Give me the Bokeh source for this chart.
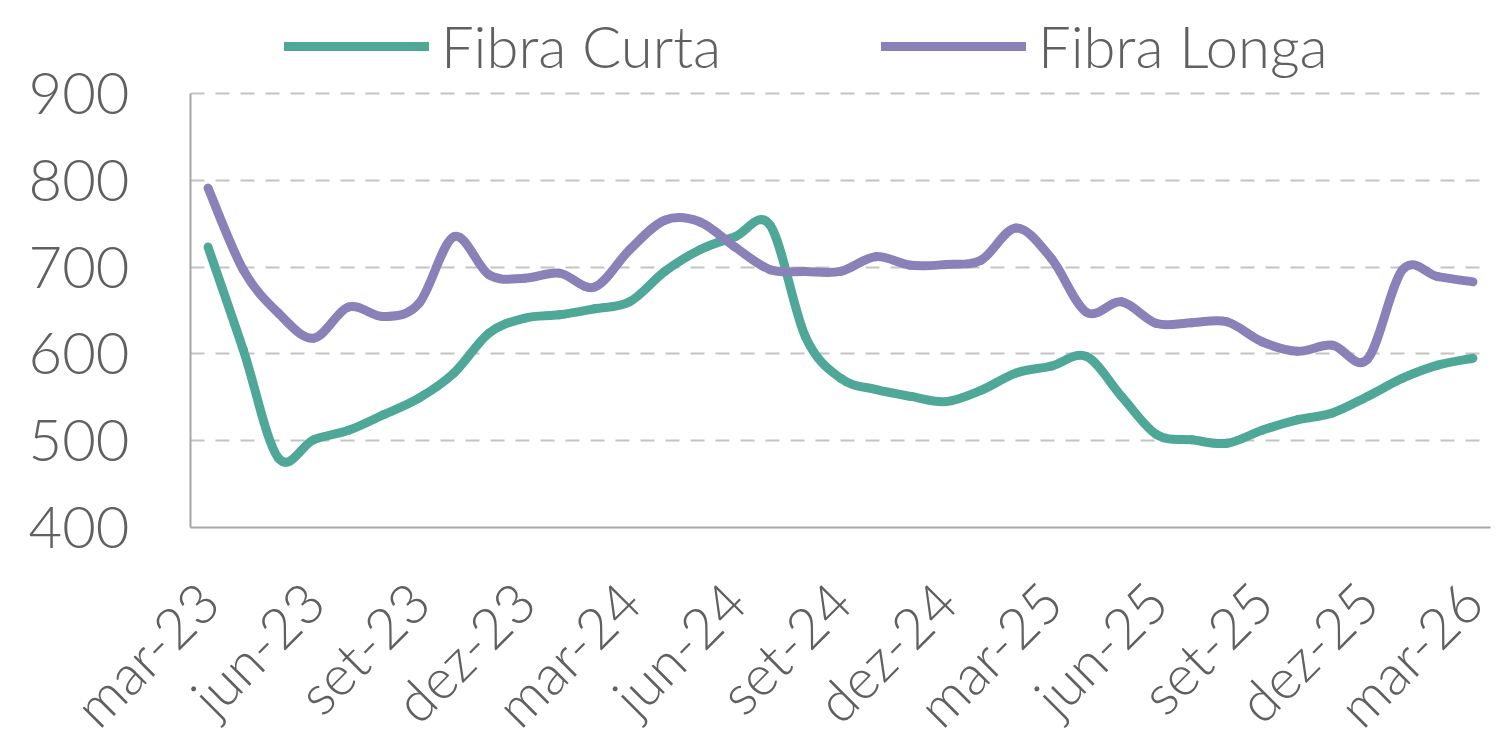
from bokeh.plotting import figure
from bokeh.models import Range1d, FixedTicker, Legend, LegendItem, ColumnDataSource
from bokeh.embed import file_html
from bokeh.resources import INLINE
from math import pi

months = ["mar-23","abr-23","mai-23","jun-23","jul-23","ago-23","set-23","out-23","nov-23","dez-23",
          "jan-24","fev-24","mar-24","abr-24","mai-24","jun-24","jul-24","ago-24","set-24","out-24",
          "nov-24","dez-24","jan-25","fev-25","mar-25","abr-25","mai-25","jun-25","jul-25","ago-25",
          "set-25","out-25","nov-25","dez-25","jan-26","fev-26","mar-26"]

fibra_curta = [723, 605, 480, 501, 512, 530, 549, 578, 624, 641,
               645, 652, 660, 695, 720, 735, 748, 620, 572, 559,
               551, 545, 558, 578, 586, 597, 551, 507, 501, 497,
               512, 524, 532, 551, 572, 587, 595]

fibra_longa = [791, 697, 647, 618, 654, 643, 658, 735, 691, 687,
               693, 677, 720, 754, 752, 723, 697, 695, 695, 712,
               702, 703, 708, 745, 710, 648, 660, 635, 636, 637,
               614, 603, 610, 594, 697, 689, 683]

series_names = ["Fibra Curta", "Fibra Longa"]
colors = ["#4FA897", "#8981B8"]
y_ticks = [400, 500, 600, 700, 800, 900]

FONT = "Lato Light"
TEXT = "#606060"

# frame extends above 900 to make room for the legend, axis line bounded to 400-900
p = figure(frame_width=1300, frame_height=527, output_backend="svg", toolbar_location=None,
           x_range=Range1d(-0.5, len(months) - 0.5), y_range=Range1d(400, 1007.1),
           min_border_left=190, min_border_right=5, min_border_top=0, min_border_bottom=200)
p.outline_line_color = None
p.background_fill_color = "white"
p.border_fill_color = "white"

def bezier_source(ys):
    n = len(ys)
    xs = list(range(n))
    d = dict(x0=[], y0=[], x1=[], y1=[], cx0=[], cy0=[], cx1=[], cy1=[])
    for i in range(n - 1):
        xm, ym = xs[max(i - 1, 0)], ys[max(i - 1, 0)]
        xp2, yp2 = xs[min(i + 2, n - 1)], ys[min(i + 2, n - 1)]
        d["x0"].append(xs[i]); d["y0"].append(ys[i])
        d["x1"].append(xs[i + 1]); d["y1"].append(ys[i + 1])
        d["cx0"].append(xs[i] + (xs[i + 1] - xm) / 6.0)
        d["cy0"].append(ys[i] + (ys[i + 1] - ym) / 6.0)
        d["cx1"].append(xs[i + 1] - (xp2 - xs[i]) / 6.0)
        d["cy1"].append(ys[i + 1] - (yp2 - ys[i]) / 6.0)
    return ColumnDataSource(d)

items = []
for name, ys, c in zip(series_names, [fibra_curta, fibra_longa], colors):
    r = p.bezier(x0="x0", y0="y0", x1="x1", y1="y1", cx0="cx0", cy0="cy0", cx1="cx1", cy1="cy1",
                 source=bezier_source(ys), line_color=c, line_width=9, line_cap="round", line_join="round")
    items.append(LegendItem(label=name, renderers=[r]))

# axes
p.xaxis.ticker = FixedTicker(ticks=list(range(0, len(months), 3)))
p.xaxis.major_label_overrides = {i: months[i] for i in range(0, len(months), 3)}
p.xaxis.major_label_orientation = pi / 4
p.xaxis.major_label_text_font = FONT
p.xaxis.major_label_text_font_size = "56px"
p.xaxis.major_label_text_color = TEXT
p.xaxis.major_tick_line_color = None
p.xaxis.minor_tick_line_color = None
p.xaxis.axis_line_color = "#a6a6a6"
p.xaxis.axis_line_width = 2
p.xaxis.major_label_standoff = 58

p.yaxis.ticker = FixedTicker(ticks=y_ticks)
p.yaxis.bounds = (y_ticks[0], y_ticks[-1])
p.yaxis.major_label_text_font = FONT
p.yaxis.major_label_text_font_size = "58px"
p.yaxis.major_label_text_color = TEXT
p.yaxis.major_tick_line_color = None
p.yaxis.minor_tick_line_color = None
p.yaxis.axis_line_color = "#a6a6a6"
p.yaxis.axis_line_width = 2
p.yaxis.major_label_standoff = 55

p.xgrid.grid_line_color = None
p.ygrid.ticker = FixedTicker(ticks=y_ticks[1:])
p.ygrid.grid_line_color = "#c4c4c4"
p.ygrid.grid_line_width = 2
p.ygrid.grid_line_dash = "14 11"

legend = Legend(items=items, orientation="horizontal", location=(94, 447),
                label_text_font=FONT, label_text_font_size="58px", label_text_color=TEXT,
                glyph_width=145, glyph_height=30, label_standoff=12, spacing=160,
                padding=0, margin=0, border_line_color=None, background_fill_alpha=0)
p.add_layout(legend, "center")

open("out.html", "w").write(file_html(p, INLINE))
